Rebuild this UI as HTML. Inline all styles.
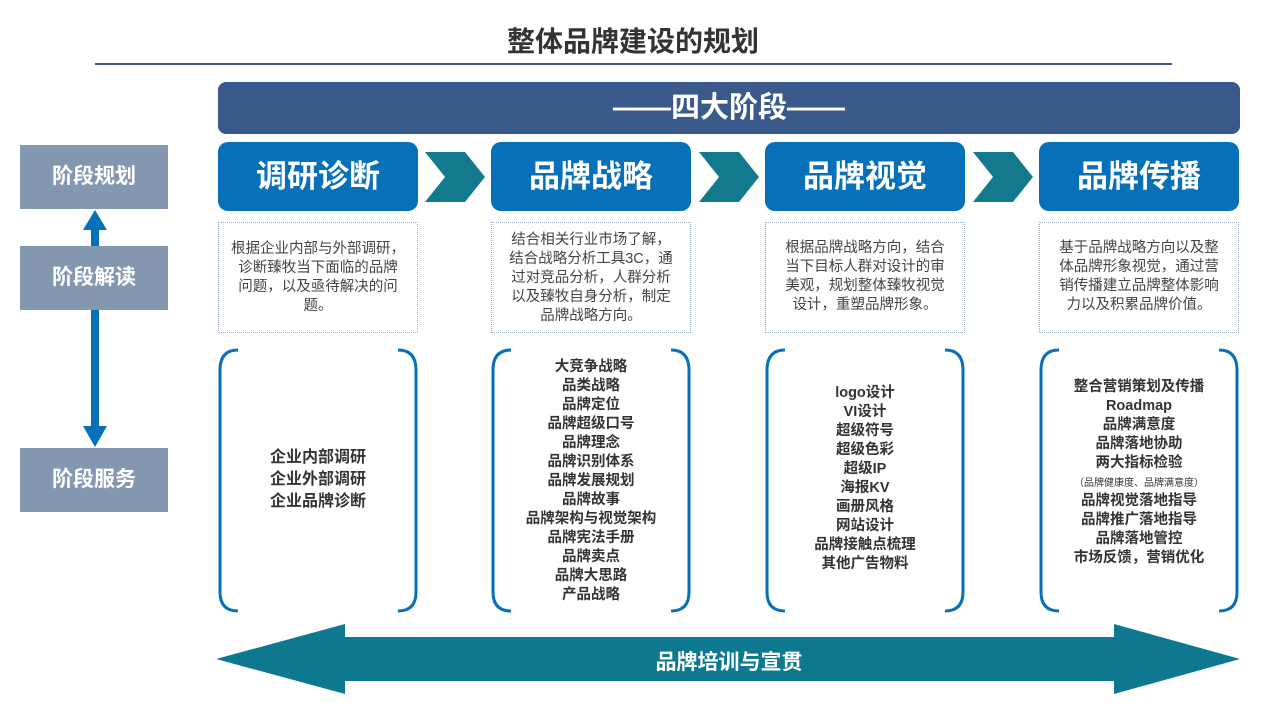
<!DOCTYPE html>
<html><head><meta charset="utf-8"><style>
body{margin:0;width:1266px;height:712px;background:#fff;position:relative;overflow:hidden;font-family:"Liberation Sans","Noto Sans CJK SC",sans-serif}
.a{position:absolute}
.lab{position:absolute;left:20px;width:148px;height:64px;background:#8497b0;color:#fff;font-weight:bold;font-size:21px;line-height:64px;text-align:center}
.hd{position:absolute;top:142px;width:200px;height:69px;background:#0670b8;border-radius:10px;color:#fff;font-weight:bold;font-size:31px;line-height:69px;text-align:center}
.ds{position:absolute;top:222px;width:200px;height:111px;border:1px dotted #9aa8c0;box-sizing:border-box;display:flex;align-items:center;justify-content:center;text-align:center;font-size:14.5px;line-height:19px;color:#444;padding:0 7px}
.sv{position:absolute;top:348px;width:204px;height:264px;display:flex;align-items:center;justify-content:center;text-align:center;font-weight:bold;font-size:14.5px;line-height:19px;color:#333}
</style></head><body>
<div class="a" style="left:0;top:20px;width:1266px;text-align:center;font-size:28px;font-weight:bold;color:#333">整体品牌建设的规划</div>
<div class="a" style="left:95px;top:63px;width:1077px;height:2px;background:#3a5a8c"></div>
<div class="a" style="left:218px;top:82px;width:1022px;height:52px;background:#3a5a8c;border-radius:8px;color:#fff;font-weight:bold;font-size:29px;line-height:52px;text-align:center">——四大阶段——</div>
<div class="lab" style="top:145px">阶段规划</div>
<div class="lab" style="top:246px">阶段解读</div>
<div class="lab" style="top:448px">阶段服务</div>
<svg class="a" style="left:0;top:0" width="1266" height="712">
<rect x="91" y="228" width="8" height="18" fill="#0670b8"/>
<polygon points="83,230 95,210 107,230" fill="#0670b8"/>
<rect x="91" y="310" width="8" height="120" fill="#0670b8"/>
<polygon points="83,426 95,447 107,426" fill="#0670b8"/>
<g fill="#137a8e">
<polygon points="425,152 465,152 485,177 465,202 425,202 445,177"/>
<polygon points="699,152 739,152 759,177 739,202 699,202 719,177"/>
<polygon points="973,152 1013,152 1033,177 1013,202 973,202 993,177"/>
<polygon points="216,659 345,624 345,637 1114,637 1114,624 1240,659 1114,694 1114,681 345,681 345,694" fill="#0e7890"/>
</g>
<g fill="none" stroke="#0670b8" stroke-width="3">
<path d="M238,350 Q220,350 220,370 L220,592 Q220,611 238,611"/>
<path d="M398,350 Q416,350 416,370 L416,592 Q416,611 398,611"/>
<path d="M511,350 Q493,350 493,370 L493,592 Q493,611 511,611"/>
<path d="M671,350 Q689,350 689,370 L689,592 Q689,611 671,611"/>
<path d="M785,350 Q767,350 767,370 L767,592 Q767,611 785,611"/>
<path d="M945,350 Q963,350 963,370 L963,592 Q963,611 945,611"/>
<path d="M1059,350 Q1041,350 1041,370 L1041,592 Q1041,611 1059,611"/>
<path d="M1219,350 Q1237,350 1237,370 L1237,592 Q1237,611 1219,611"/>
</g>
</svg>
<div class="a" style="left:218px;top:646px;width:1022px;text-align:center;color:#fff;font-weight:bold;font-size:21px">品牌培训与宣贯</div>
<div class="hd" style="left:218px">调研诊断</div>
<div class="hd" style="left:491px">品牌战略</div>
<div class="hd" style="left:765px">品牌视觉</div>
<div class="hd" style="left:1039px">品牌传播</div>
<div class="ds" style="left:218px;padding:0 4px"><div>根据企业内部与外部调研，<br>诊断臻牧当下面临的品牌<br>问题，以及亟待解决的问<br>题。</div></div>
<div class="ds" style="left:491px;align-items:flex-start;padding-top:8px"><div>结合相关行业市场了解，<br>结合战略分析工具3C，通<br>过对竞品分析，人群分析<br>以及臻牧自身分析，制定<br>品牌战略方向。</div></div>
<div class="ds" style="left:765px;align-items:flex-start;padding-top:16px"><div>根据品牌战略方向，结合<br>当下目标人群对设计的审<br>美观，规划整体臻牧视觉<br>设计，重塑品牌形象。</div></div>
<div class="ds" style="left:1039px;align-items:flex-start;padding-top:16px"><div>基于品牌战略方向以及整<br>体品牌形象视觉，通过营<br>销传播建立品牌整体影响<br>力以及积累品牌价值。</div></div>
<div class="sv" style="left:216px;font-size:16px;line-height:22px"><div>企业内部调研<br>企业外部调研<br>企业品牌诊断</div></div>
<div class="sv" style="left:489px;top:358px;align-items:flex-start"><div>大竞争战略<br>品类战略<br>品牌定位<br>品牌超级口号<br>品牌理念<br>品牌识别体系<br>品牌发展规划<br>品牌故事<br>品牌架构与视觉架构<br>品牌宪法手册<br>品牌卖点<br>品牌大思路<br>产品战略</div></div>
<div class="sv" style="left:763px;top:384px;align-items:flex-start"><div>logo设计<br>VI设计<br>超级符号<br>超级色彩<br>超级IP<br>海报KV<br>画册风格<br>网站设计<br>品牌接触点梳理<br>其他广告物料</div></div>
<div class="sv" style="left:1037px;top:378px;align-items:flex-start"><div>整合营销策划及传播<br>Roadmap<br>品牌满意度<br>品牌落地协助<br>两大指标检验<br><span style="font-size:10px;font-weight:normal;line-height:14px;display:inline-block">（品牌健康度、品牌满意度）</span><br>品牌视觉落地指导<br>品牌推广落地指导<br>品牌落地管控<br>市场反馈，营销优化</div></div>
</body></html>
